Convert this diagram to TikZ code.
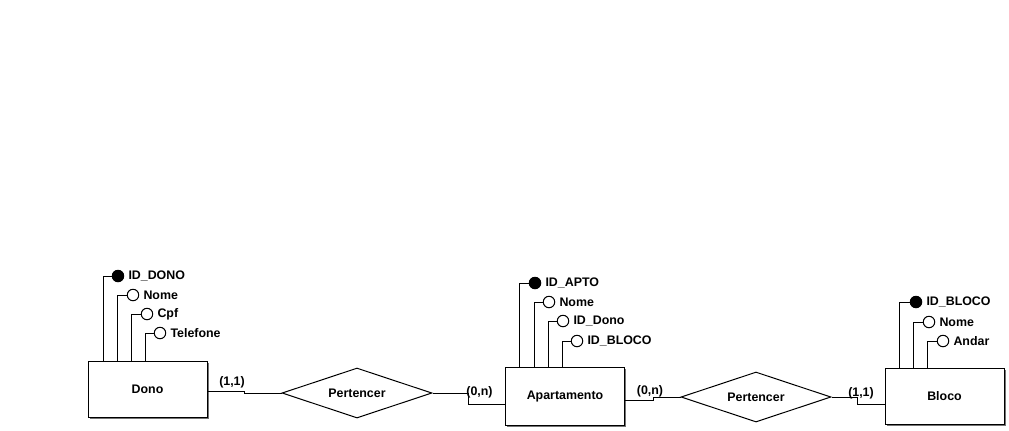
\documentclass[tikz,border=0pt]{standalone}
\usepackage{fontspec}
\setmainfont{Liberation Sans}
\usetikzlibrary{shapes.geometric,calc,shadows}
\begin{document}
\begin{tikzpicture}[x=0.75pt,y=-0.75pt,
  every node/.style={font=\fontsize{9.3}{11}\selectfont\bfseries},
  line/.style={draw=black,line width=0.75pt},
  entity/.style={draw=black,line width=0.75pt,fill=white,rectangle,inner sep=0pt,
     minimum width=89.25pt,minimum height=42pt,
     drop shadow={shadow xshift=1.3pt,shadow yshift=-1.3pt,fill=black!55,opacity=1}},
  rel/.style={draw=black,line width=0.75pt,fill=white,diamond,inner sep=0pt,aspect=3,
     minimum width=112.5pt,minimum height=37.5pt},
  keyattr/.style={circle,draw=black,fill=black,line width=0.75pt,inner sep=0pt,minimum size=8.6pt},
  attr/.style={circle,draw=black,fill=white,line width=0.75pt,inner sep=0pt,minimum size=8.6pt},
  alabel/.style={anchor=west,inner sep=0pt,xshift=3pt},
  card/.style={inner sep=0pt}
]
\useasboundingbox (0,0) rectangle (1009,430);
\fill[white] (0,0) rectangle (1009,430);

% entities
\node[entity,minimum height=42pt] (dono) at (147.5,389) {Dono};
\node[entity,minimum height=43.5pt] (apto) at (565,396.5) {Apartamento};
\node[entity,minimum height=42pt] (bloco) at (944.5,396) {Bloco};

% relationships
\node[rel] (r1) at (357,393) {Pertencer};
\node[rel] (r2) at (756,397) {Pertencer};

% Dono attributes
\node[keyattr] (d1) at (118,276) {};
\node[attr] (d2) at (133,295) {};
\node[attr] (d3) at (147,314) {};
\node[attr] (d4) at (160,333) {};
\node[alabel] at (d1.east) {ID\_DONO};
\node[alabel] at (d2.east) {Nome};
\node[alabel] at (d3.east) {Cpf};
\node[alabel] at (d4.east) {Telefone};
\draw[line] (dono.north -| 103,0) |- (d1.west);
\draw[line] (dono.north -| 117,0) |- (d2.west);
\draw[line] (dono.north -| 131,0) |- (d3.west);
\draw[line] (dono.north -| 145,0) |- (d4.west);

% Apartamento attributes
\node[keyattr] (a1) at (535,283) {};
\node[attr] (a2) at (549,302) {};
\node[attr] (a3) at (563,321) {};
\node[attr] (a4) at (577,341) {};
\node[alabel] at (a1.east) {ID\_APTO};
\node[alabel] at (a2.east) {Nome};
\node[alabel] at (a3.east) {ID\_Dono};
\node[alabel] at (a4.east) {ID\_BLOCO};
\draw[line] (apto.north -| 519.5,0) |- (a1.west);
\draw[line] (apto.north -| 534,0) |- (a2.west);
\draw[line] (apto.north -| 548,0) |- (a3.west);
\draw[line] (apto.north -| 562,0) |- (a4.west);

% Bloco attributes
\node[keyattr] (b1) at (916,302) {};
\node[attr] (b2) at (929,322) {};
\node[attr] (b3) at (943,341) {};
\node[alabel] at (b1.east) {ID\_BLOCO};
\node[alabel] at (b2.east) {Nome};
\node[alabel] at (b3.east) {Andar};
\draw[line] (bloco.north -| 899,0) |- (b1.west);
\draw[line] (bloco.north -| 913,0) |- (b2.west);
\draw[line] (bloco.north -| 927,0) |- (b3.west);

% connectors
\coordinate (c1a) at (244,391);
\coordinate (c1b) at (244,393);
\draw[line] (dono.east |- c1a) -- (c1a) -- (c1b) -- (r1.west);
\node[card] at (232,382) {(1,1)};

\coordinate (c2a) at (468,393);
\coordinate (c2b) at (468,404);
\draw[line] (r1.east) -- (c2a) -- (c2b) -- (apto.west |- c2b);
\node[card] at (479.5,392.5) {(0,n)};

\coordinate (c3a) at (653,400);
\coordinate (c3b) at (653,397);
\draw[line] (apto.east |- c3a) -- (c3a) -- (c3b) -- (r2.west);
\node[card] at (650,391) {(0,n)};

\coordinate (c4a) at (857.5,397);
\coordinate (c4b) at (857.5,404);
\draw[line] (r2.east) -- (c4a) -- (c4b) -- (bloco.west |- c4b);
\node[card] at (861,393) {(1,1)};
\end{tikzpicture}
\end{document}
